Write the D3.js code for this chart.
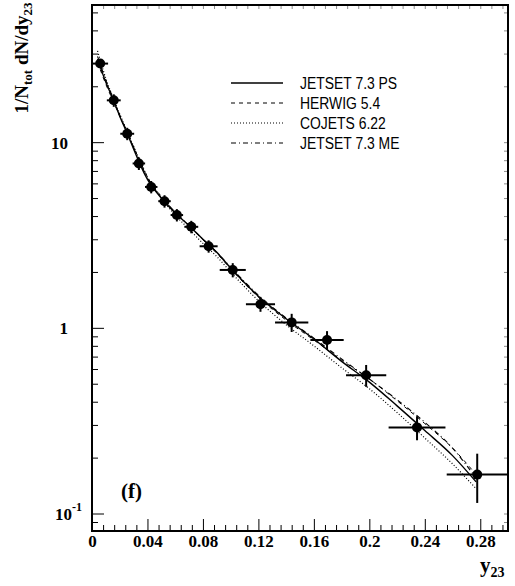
<!DOCTYPE html>
<html>
<head>
<meta charset="utf-8">
<script src="https://cdnjs.cloudflare.com/ajax/libs/d3/7.8.5/d3.min.js"></script>
<style>
  body { margin: 0; background: #fff; }
  svg { display: block; }
  .tick text { font-family: "Liberation Serif", "Times New Roman", serif; font-weight: bold; font-size: 17px; fill: #000; }
  .domain { display: none; }
  .tick line { stroke: #000; }
  .serif { font-family: "Liberation Serif", "Times New Roman", serif; font-weight: bold; fill: #000; }
  .leg { font-family: "Liberation Sans", Arial, sans-serif; font-size: 16px; fill: #000; }
</style>
</head>
<body>
<svg id="chart"></svg>
<script>
// measured points: y23 bin centre, 1/N dN/dy23, half bin width, error
const dataX = [0.0059, 0.0157, 0.0254, 0.0338, 0.0427, 0.0523, 0.0612, 0.0716, 0.0841, 0.1015, 0.1215, 0.144, 0.1695, 0.1977, 0.2344, 0.2778];
const dataY = [26.5, 16.8, 11.1, 7.68, 5.74, 4.81, 4.05, 3.50, 2.75, 2.05, 1.34, 1.07, 0.86, 0.556, 0.291, 0.162];
const dataXErr = [0.0057, 0.005, 0.005, 0.0045, 0.0045, 0.0045, 0.0045, 0.005, 0.0065, 0.0094, 0.0105, 0.012, 0.012, 0.0145, 0.0205, 0.022];
const dataYErr = [0.8, 1.3, 0.85, 0.6, 0.44, 0.37, 0.31, 0.27, 0.21, 0.18, 0.12, 0.12, 0.1, 0.075, 0.043, 0.048];

// Monte Carlo curves
const mcX = [0.004, 0.01, 0.015, 0.02, 0.025, 0.03, 0.035, 0.04, 0.05, 0.06, 0.07, 0.08, 0.09, 0.1, 0.12, 0.14, 0.16, 0.18, 0.2, 0.22, 0.24, 0.26, 0.277];
const jetsetPS = [28, 21, 17.2, 13.8, 11.3, 9.2, 7.5, 6.3, 5.0, 4.15, 3.55, 3.0, 2.55, 2.1, 1.48, 1.12, 0.87, 0.66, 0.51, 0.38, 0.28, 0.205, 0.148];
const herwig = [27, 20.5, 16.8, 13.8, 11.4, 9.4, 7.8, 6.5, 5.1, 4.2, 3.55, 2.98, 2.52, 2.08, 1.46, 1.1, 0.86, 0.67, 0.53, 0.405, 0.305, 0.225, 0.162];
const cojets = [31, 22, 17.5, 14.2, 11.6, 9.5, 7.8, 6.5, 5.0, 4.05, 3.4, 2.85, 2.42, 2.0, 1.4, 1.04, 0.8, 0.61, 0.47, 0.35, 0.255, 0.185, 0.136];
const jetsetME = [29, 21.5, 17.4, 14, 11.5, 9.4, 7.7, 6.4, 5.05, 4.2, 3.55, 3.0, 2.55, 2.12, 1.5, 1.13, 0.88, 0.68, 0.53, 0.41, 0.31, 0.225, 0.155];

const seriesNames = ["JETSET 7.3 PS", "HERWIG 5.4", "COJETS 6.22", "JETSET 7.3 ME"];
const seriesValues = [jetsetPS, herwig, cojets, jetsetME];

const xTicks = [0, 0.04, 0.08, 0.12, 0.16, 0.2, 0.24, 0.28];
const xTickLabels = ["0", "0.04", "0.08", "0.12", "0.16", "0.2", "0.24", "0.28"];
const yTicks = [0.1, 1, 10];
const yTickLabels = [["10", "-1"], ["1", ""], ["10", ""]];

const W = 515, H = 586;
const m = {left: 92, right: 508, top: 5, bottom: 531};

let svg = d3.select("#chart").attr("width", W).attr("height", H);

let x = d3.scaleLinear().domain([0, 0.3]).range([m.left, m.right]);
let y = d3.scaleLog().domain([0.0805, 54.8]).range([m.bottom, m.top]);

const dashes = [null, "4,4", "1,2", "5,3,1,3"];
const widths = [1.4, 1, 1.2, 1.1];

drawAxes();
drawCurves();
drawPoints();
drawLegend();
drawLabels();

function drawAxes() {
  let xMinor = d3.range(0, 0.3, 0.008).filter((d, i) => i % 5 !== 0);
  let yMinor = [];
  [0.01, 0.1, 1, 10].forEach(e => d3.range(2, 10).forEach(k => {
    let v = k * e;
    if (v > y.domain()[0] && v < y.domain()[1]) yMinor.push(v);
  }));

  // bottom
  svg.append("g").attr("transform", `translate(0,${m.bottom})`)
    .call(d3.axisBottom(x).tickValues(xTicks).tickSize(-12).tickPadding(4)
      .tickFormat((d, i) => xTickLabels[i]));
  svg.append("g").attr("transform", `translate(0,${m.bottom})`)
    .call(d3.axisBottom(x).tickValues(xMinor).tickSize(-6).tickFormat(""));
  // top, faint
  svg.append("g").attr("transform", `translate(0,${m.top})`).attr("opacity", 0.45)
    .call(d3.axisTop(x).tickValues(xTicks.concat(xMinor)).tickSize(-4).tickFormat(""));

  // left
  let yAxis = svg.append("g").attr("transform", `translate(${m.left},0)`)
    .call(d3.axisLeft(y).tickValues(yTicks).tickSize(-12).tickFormat(""));
  svg.append("g").attr("transform", `translate(${m.left},0)`)
    .call(d3.axisLeft(y).tickValues(yMinor).tickSize(-6).tickFormat(""));
  // right, faint
  svg.append("g").attr("transform", `translate(${m.right},0)`).attr("opacity", 0.45)
    .call(d3.axisRight(y).tickValues(yTicks.concat(yMinor)).tickSize(-4).tickFormat(""));

  yAxis.selectAll(".tick").each(function (d, i) {
    let lab = yTickLabels[i];
    let t = d3.select(this).append("text")
      .attr("text-anchor", "end")
      .attr("x", lab[1] ? -10 : -24)
      .attr("dy", "0.35em");
    t.append("tspan").text(lab[0]);
    if (lab[1]) t.append("tspan").attr("dy", "-0.75em").attr("font-size", "12px").text(lab[1]);
  });

  svg.append("rect")
    .attr("x", m.left).attr("y", m.top)
    .attr("width", m.right - m.left).attr("height", m.bottom - m.top)
    .attr("fill", "none").attr("stroke", "#000").attr("stroke-width", 2);
}

function drawCurves() {
  let line = d3.line().curve(d3.curveMonotoneX)
    .x((d, i) => x(mcX[i]))
    .y(d => y(d));

  seriesValues.forEach((vals, s) => {
    svg.append("path").datum(vals)
      .attr("d", line)
      .attr("fill", "none")
      .attr("stroke", "#000")
      .attr("stroke-width", widths[s])
      .attr("stroke-dasharray", dashes[s]);
  });
}

function drawPoints() {
  let pts = dataX.map((d, i) => ({x: d, y: dataY[i], ex: dataXErr[i], ey: dataYErr[i]}));
  let g = svg.append("g");

  g.selectAll(".hbar").data(pts).enter().append("line")
    .attr("x1", d => x(Math.max(0, d.x - d.ex))).attr("x2", d => x(d.x + d.ex))
    .attr("y1", d => y(d.y)).attr("y2", d => y(d.y))
    .attr("stroke", "#000").attr("stroke-width", 2);

  g.selectAll(".vbar").data(pts).enter().append("line")
    .attr("x1", d => x(d.x)).attr("x2", d => x(d.x))
    .attr("y1", d => y(d.y + d.ey)).attr("y2", d => y(d.y - d.ey))
    .attr("stroke", "#000").attr("stroke-width", 2);

  g.selectAll("circle").data(pts).enter().append("circle")
    .attr("cx", d => x(d.x)).attr("cy", d => y(d.y))
    .attr("r", 5).attr("fill", "#000");
}

function drawLegend() {
  seriesNames.forEach((name, i) => {
    let yy = 83 + i * 20;
    svg.append("line")
      .attr("x1", 231).attr("x2", 283).attr("y1", yy).attr("y2", yy)
      .attr("stroke", "#000")
      .attr("stroke-width", widths[i])
      .attr("stroke-dasharray", dashes[i]);
    svg.append("text").attr("class", "leg")
      .attr("transform", `translate(300,${yy + 6}) scale(0.87,1)`)
      .text(name);
  });
}

function drawLabels() {
  let yl = svg.append("text").attr("class", "serif")
    .attr("transform", "translate(28,58) rotate(-90)")
    .attr("text-anchor", "middle")
    .attr("font-size", "19px");
  yl.append("tspan").text("1/N");
  yl.append("tspan").attr("font-size", "13px").attr("dy", 4).text("tot");
  yl.append("tspan").attr("dy", -4).text(" dN/dy");
  yl.append("tspan").attr("font-size", "13px").attr("dy", 4).text("23");

  let xl = svg.append("text").attr("class", "serif")
    .attr("x", 480).attr("y", 572).attr("font-size", "21px");
  xl.append("tspan").text("y");
  xl.append("tspan").attr("font-size", "14px").attr("dy", 5).text("23");

  svg.append("text").attr("class", "serif")
    .attr("x", 121).attr("y", 498).attr("font-size", "21px")
    .text("(f)");
}
</script>
</body>
</html>
